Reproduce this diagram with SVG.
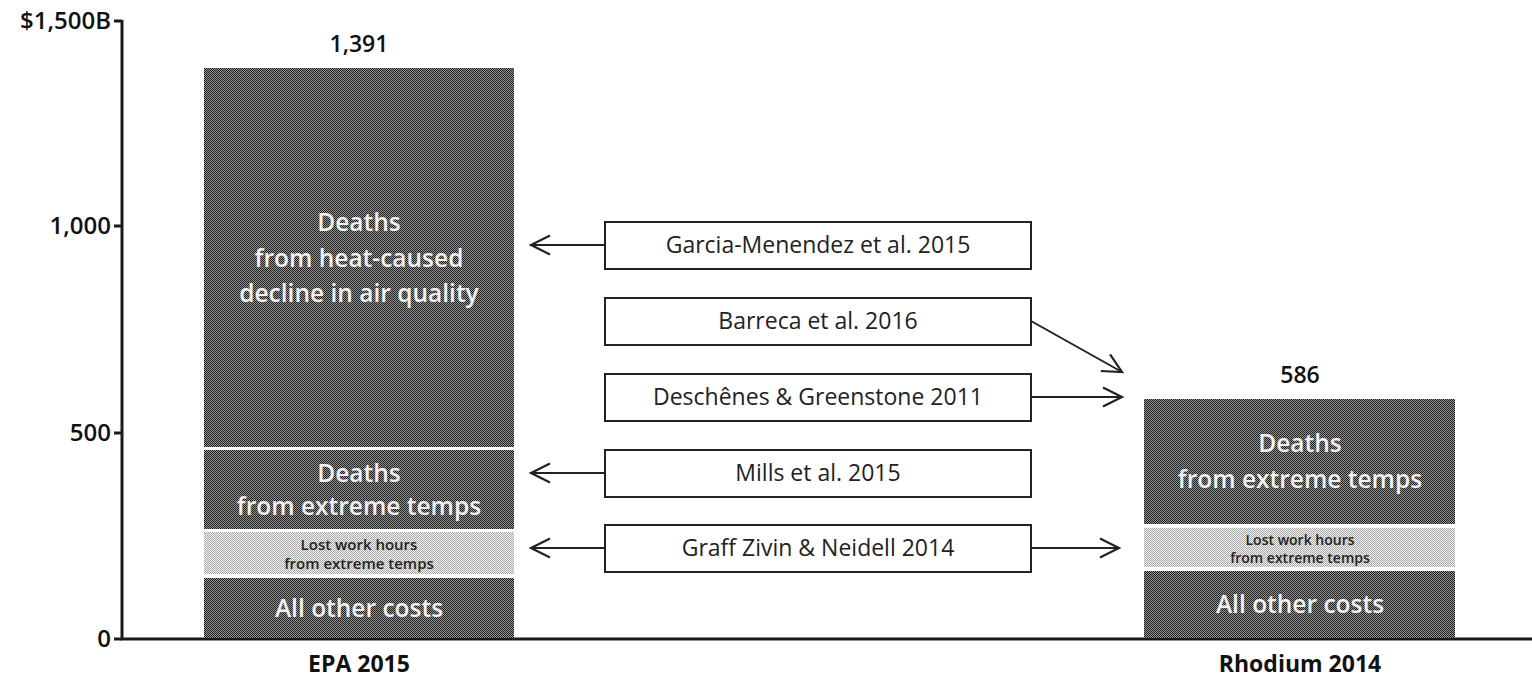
<svg xmlns="http://www.w3.org/2000/svg" width="1532" height="677" viewBox="0 0 1532 677">
<defs>
<style>
text{font-family:"Open Sans",Lato,"Liberation Sans",sans-serif;}
.ax{font-size:24px;font-weight:600;fill:#111;text-anchor:end;}
.cat{font-size:23px;font-weight:bold;fill:#111;text-anchor:middle;}
.tot{font-size:23px;font-weight:600;fill:#111;text-anchor:middle;}
.big{font-size:24.5px;font-weight:600;fill:#f2f2f2;text-anchor:middle;}
.sm{font-size:15px;font-weight:600;fill:#222;text-anchor:middle;}
.box rect{fill:#fff;stroke:#222;stroke-width:2;}
.box text{font-size:23px;fill:#222;text-anchor:middle;}
.ln{stroke:#222;stroke-width:2;fill:none;}
.axis{stroke:#1a1a1a;stroke-width:3;fill:none;}
</style>
<pattern id="dk" width="2" height="2" patternUnits="userSpaceOnUse">
<rect width="2" height="2" fill="#959595"/>
<rect width="1" height="1" fill="#1e1e1e"/>
<rect x="1" y="1" width="1" height="1" fill="#1e1e1e"/>
</pattern>
<pattern id="lt" width="2" height="2" patternUnits="userSpaceOnUse">
<rect width="2" height="2" fill="#f2f2f2"/>
<rect width="1" height="1" fill="#a8a8a8"/>
<rect x="1" y="1" width="1" height="1" fill="#a8a8a8"/>
</pattern>
<marker id="ah" markerWidth="24" markerHeight="22" refX="21" refY="11" orient="auto" markerUnits="userSpaceOnUse">
<path d="M2,1.5 L21,11 L2,20.5" fill="none" stroke="#222" stroke-width="2.2"/>
</marker>
</defs>

<g id="axes">
<path class="axis" d="M122,20 V639 H1532"/>
<path class="axis" d="M114,21 H122 M114,226 H122 M114,433 H122 M114,639 H122"/>
<text class="ax" x="111" y="29">$1,500B</text>
<text class="ax" x="111" y="234">1,000</text>
<text class="ax" x="111" y="441">500</text>
<text class="ax" x="111" y="647">0</text>
<text class="cat" x="359" y="672">EPA 2015</text>
<text class="cat" x="1300" y="672">Rhodium 2014</text>
</g>

<g id="bar-epa">
<text class="tot" x="359" y="52">1,391</text>
<rect x="204" y="68" width="310" height="379" fill="url(#dk)"/>
<rect x="204" y="450" width="310" height="79" fill="url(#dk)"/>
<rect x="204" y="532" width="310" height="42" fill="url(#lt)"/>
<rect x="204" y="578" width="310" height="60" fill="url(#dk)"/>
<text class="big" x="359" y="231">Deaths</text>
<text class="big" x="359" y="267">from heat-caused</text>
<text class="big" x="359" y="302">decline in air quality</text>
<text class="big" x="359" y="482">Deaths</text>
<text class="big" x="359" y="515">from extreme temps</text>
<text class="sm" x="359" y="550">Lost work hours</text>
<text class="sm" x="359" y="569">from extreme temps</text>
<text class="big" x="359" y="617">All other costs</text>
</g>

<g id="bar-rhodium">
<text class="tot" x="1300" y="383">586</text>
<rect x="1144" y="399" width="311" height="125" fill="url(#dk)"/>
<rect x="1144" y="528" width="311" height="39" fill="url(#lt)"/>
<rect x="1144" y="571" width="311" height="67" fill="url(#dk)"/>
<text class="big" x="1300" y="452">Deaths</text>
<text class="big" x="1300" y="488">from extreme temps</text>
<text class="sm" x="1300" y="545" style="font-size:14px">Lost work hours</text>
<text class="sm" x="1300" y="563" style="font-size:14px">from extreme temps</text>
<text class="big" x="1300" y="613">All other costs</text>
</g>

<g id="box-garcia" class="box">
<rect x="605" y="222" width="426" height="47"/>
<text x="818" y="253">Garcia-Menendez et al. 2015</text>
</g>
<g id="box-barreca" class="box">
<rect x="605" y="298" width="426" height="47"/>
<text x="818" y="329">Barreca et al. 2016</text>
</g>
<g id="box-deschenes" class="box">
<rect x="605" y="374" width="426" height="47"/>
<text x="818" y="405">Deschênes &amp; Greenstone 2011</text>
</g>
<g id="box-mills" class="box">
<rect x="605" y="450" width="426" height="47"/>
<text x="818" y="481">Mills et al. 2015</text>
</g>
<g id="box-graff" class="box">
<rect x="605" y="525" width="426" height="47"/>
<text x="818" y="556">Graff Zivin &amp; Neidell 2014</text>
</g>

<g id="connectors">
<line class="ln" x1="605" y1="245" x2="531" y2="245" marker-end="url(#ah)"/>
<line class="ln" x1="1031" y1="321" x2="1122" y2="372" marker-end="url(#ah)"/>
<line class="ln" x1="1031" y1="397" x2="1122" y2="397" marker-end="url(#ah)"/>
<line class="ln" x1="605" y1="473" x2="531" y2="473" marker-end="url(#ah)"/>
<line class="ln" x1="605" y1="548" x2="531" y2="548" marker-end="url(#ah)"/>
<line class="ln" x1="1031" y1="548" x2="1119" y2="548" marker-end="url(#ah)"/>
</g>
</svg>
